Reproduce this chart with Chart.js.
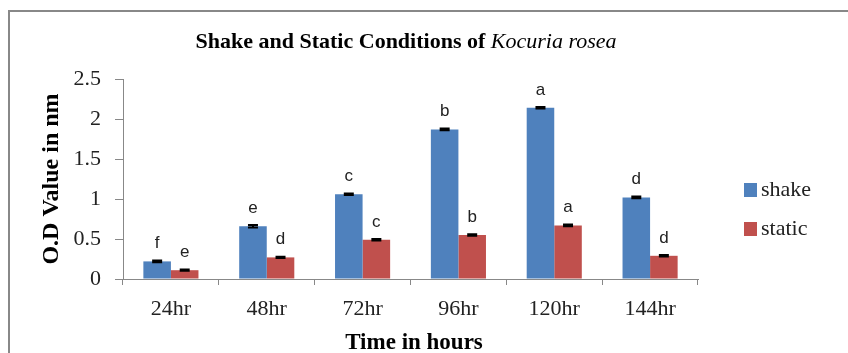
<!DOCTYPE html>
<html><head><meta charset="utf-8">
<script src="https://cdn.jsdelivr.net/npm/chart.js@4"></script>
<style>html,body{margin:0;padding:0;background:#fff;}#c{display:block;}</style>
</head><body>
<canvas id="c" width="848" height="353"></canvas>
<script>
const categories = ['24hr','48hr','72hr','96hr','120hr','144hr'];
const shakeValues = [0.22, 0.66, 1.06, 1.87, 2.14, 1.02];
const staticValues = [0.11, 0.27, 0.49, 0.55, 0.67, 0.29];
const shakeErrors = [0.01, 0.015, 0.01, 0.01, 0.01, 0.01];
const staticErrors = [0.008, 0.008, 0.01, 0.008, 0.01, 0.01];
const shakeLetters = ['f','e','c','b','a','d'];
const staticLetters = ['e','d','c','b','a','d'];
const yTicks = [0, 0.5, 1, 1.5, 2, 2.5];

const SERIF = '"Liberation Serif","Times New Roman",serif';
const SANS = '"Liberation Sans",Arial,sans-serif';

const decor = {
  id: 'decor',
  beforeDraw(chart) {
    const ctx = chart.ctx;
    ctx.save();
    ctx.fillStyle = '#fff';
    ctx.fillRect(0, 0, chart.width, chart.height);
    ctx.strokeStyle = '#888';
    ctx.lineWidth = 2;
    ctx.strokeRect(9, 11, chart.width + 10, chart.height + 10);
    ctx.restore();
  },
  afterDatasetsDraw(chart) {
    const ctx = chart.ctx;
    const y = chart.scales.y;
    ctx.save();
    const errs = [shakeErrors, staticErrors];
    const letters = [shakeLetters, staticLetters];
    chart.data.datasets.forEach((ds, di) => {
      const meta = chart.getDatasetMeta(di);
      meta.data.forEach((bar, i) => {
        const v = ds.data[i];
        const e = errs[di][i];
        const yt = y.getPixelForValue(v + e);
        const yb = y.getPixelForValue(v - e);
        ctx.strokeStyle = '#000';
        ctx.lineWidth = 2;
        ctx.beginPath();
        ctx.moveTo(bar.x - 5, yt); ctx.lineTo(bar.x + 5, yt);
        ctx.moveTo(bar.x - 5, yb); ctx.lineTo(bar.x + 5, yb);
        ctx.moveTo(bar.x, yt); ctx.lineTo(bar.x, yb);
        ctx.stroke();
        ctx.fillStyle = '#222';
        ctx.font = '17px ' + SANS;
        ctx.textAlign = 'center';
        ctx.textBaseline = 'alphabetic';
        ctx.fillText(letters[di][i], bar.x, y.getPixelForValue(v) - 13);
      });
    });
    // title
    const p1 = 'Shake and Static Conditions of ';
    const p2 = 'Kocuria rosea';
    ctx.fillStyle = '#000';
    ctx.textBaseline = 'middle';
    ctx.textAlign = 'left';
    ctx.font = 'bold 22px ' + SERIF;
    const w1 = ctx.measureText(p1).width;
    ctx.font = 'italic 22px ' + SERIF;
    const w2 = ctx.measureText(p2).width;
    let x0 = 406 - (w1 + w2) / 2;
    ctx.font = 'bold 22px ' + SERIF;
    ctx.fillText(p1, x0, 42);
    ctx.font = 'italic 22px ' + SERIF;
    ctx.fillText(p2, x0 + w1, 42);
    // axis titles
    ctx.font = 'bold 23px ' + SERIF;
    ctx.textAlign = 'center';
    ctx.fillText('Time in hours', 414, 343);
    ctx.save();
    ctx.translate(52, 179);
    ctx.rotate(-Math.PI / 2);
    ctx.font = 'bold 24px ' + SERIF;
    ctx.fillText('O.D Value in nm', 0, 0);
    ctx.restore();
    // legend
    const items = [[chart.data.datasets[0], 190], [chart.data.datasets[1], 229]];
    ctx.font = '22px ' + SERIF;
    ctx.textAlign = 'left';
    items.forEach(([ds, cy]) => {
      ctx.fillStyle = ds.backgroundColor;
      ctx.fillRect(744, cy - 7, 13, 14);
      ctx.fillStyle = '#222';
      ctx.fillText(ds.label, 761, cy);
    });
    ctx.restore();
  }
};

new Chart(document.getElementById('c'), {
  type: 'bar',
  data: {
    labels: categories,
    datasets: [
      { label: 'shake', data: shakeValues, backgroundColor: '#4F81BD' },
      { label: 'static', data: staticValues, backgroundColor: '#C0504D' }
    ]
  },
  options: {
    responsive: false,
    animation: false,
    devicePixelRatio: 1,
    layout: { padding: { left: 0, right: 150, top: 79, bottom: 0 } },
    datasets: { bar: { categoryPercentage: 0.575, barPercentage: 1.0 } },
    plugins: { legend: { display: false }, title: { display: false }, tooltip: { enabled: false } },
    scales: {
      x: {
        grid: { display: true, drawOnChartArea: false, drawTicks: true, tickLength: 6, color: '#888', offset: true },
        border: { display: true, color: '#888', width: 1 },
        ticks: { color: '#222', font: { family: SERIF, size: 22 }, padding: 11, autoSkip: false, maxRotation: 0 },
        afterFit(s) { s.height = 74; }
      },
      y: {
        min: 0, max: 2.5,
        afterBuildTicks(s) { s.ticks = yTicks.map(v => ({ value: v })); },
        grid: { display: true, drawOnChartArea: false, drawTicks: true, tickLength: 8, color: '#888' },
        border: { display: true, color: '#888', width: 1 },
        ticks: { color: '#222', font: { family: SERIF, size: 22 }, padding: 14, callback: v => String(v) },
        afterFit(s) { s.width = 123; }
      }
    }
  },
  plugins: [decor]
});
</script>
</body></html>
